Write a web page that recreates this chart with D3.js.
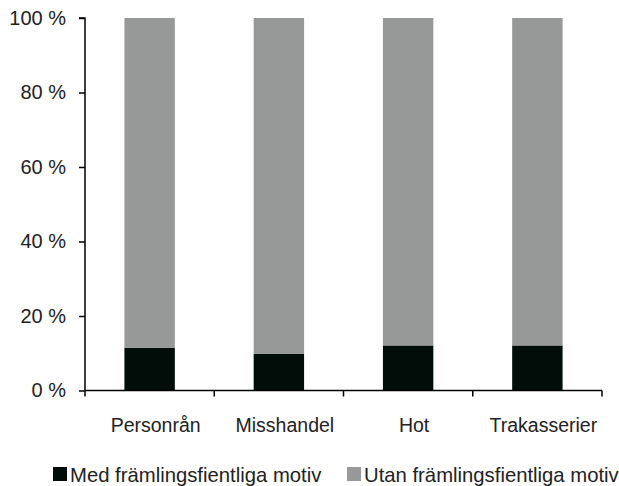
<!DOCTYPE html>
<html>
<head>
<meta charset="utf-8">
<script src="https://cdn.jsdelivr.net/npm/d3@7"></script>
<style>
  body { margin: 0; background: #fff; }
  text { font-family: "Liberation Sans", Arial, sans-serif; fill: #222; }
</style>
</head>
<body>
<script>
var categories = ["Personrån", "Misshandel", "Hot", "Trakasserier"];
var medMotiv = [11.5, 9.9, 12.1, 12.1];
var utanMotiv = [88.5, 90.1, 87.9, 87.9];
var seriesNames = ["Med främlingsfientliga motiv", "Utan främlingsfientliga motiv"];
var colors = ["#020d0a", "#969997"];
var yTicks = [0, 20, 40, 60, 80, 100];

var w = 619, h = 486;
var svg = d3.select("body").append("svg").attr("width", w).attr("height", h);

var x = d3.scaleBand().domain(categories).range([85, 602]).paddingInner(0.61).paddingOuter(0.305);
var y = d3.scaleLinear().domain([0, 100]).range([390.5, 18]);

var rows = categories.map(function (c, i) {
  return { cat: c, med: medMotiv[i], utan: utanMotiv[i] };
});
var stacked = d3.stack().keys(["med", "utan"])(rows);

svg.selectAll("g.layer").data(stacked).enter().append("g")
  .attr("class", "layer")
  .attr("fill", function (d, i) { return colors[i]; })
  .selectAll("rect").data(function (d) { return d; }).enter().append("rect")
  .attr("x", function (d) { return x(d.data.cat); })
  .attr("width", x.bandwidth())
  .attr("y", function (d) { return y(d[1]); })
  .attr("height", function (d) { return y(d[0]) - y(d[1]); });

// y axis
var yAxis = svg.append("g").attr("transform", "translate(85,0)")
  .call(d3.axisLeft(y).tickValues(yTicks).tickSize(6).tickPadding(13)
    .tickFormat(function (d) { return d + " %"; }));
yAxis.select(".domain").attr("stroke", "#000").attr("stroke-width", 1.5).attr("d", "M-6,18H0V390.5");
yAxis.selectAll(".tick line").attr("stroke", "#000").attr("stroke-width", 1.5);
yAxis.selectAll("text").style("font-size", "20px").attr("fill", "#222");

// x axis
var xAxis = svg.append("g").attr("transform", "translate(0,390.5)");
xAxis.append("line").attr("x1", 85).attr("x2", 602).attr("stroke", "#000").attr("stroke-width", 1.5);
var step = x.step();
var bounds = categories.map(function (c) { return x(c) - x.paddingInner() * step / 2; });
bounds.push(602);
xAxis.selectAll("line.tk").data(bounds).enter().append("line")
  .attr("class", "tk")
  .attr("x1", function (d) { return d; }).attr("x2", function (d) { return d; })
  .attr("y1", 0).attr("y2", 6)
  .attr("stroke", "#000").attr("stroke-width", 1.5);
xAxis.selectAll("text").data(categories).enter().append("text")
  .attr("x", function (d) { return x(d) + x.bandwidth() / 2 + 6; })
  .attr("y", 41.5)
  .attr("text-anchor", "middle")
  .style("font-size", "19.5px")
  .text(function (d) { return d; });

// legend
var legX = [53, 347];
var leg = svg.selectAll("g.leg").data(seriesNames).enter().append("g")
  .attr("class", "leg")
  .attr("transform", function (d, i) { return "translate(" + legX[i] + ",467)"; });
leg.append("rect").attr("width", 14).attr("height", 14)
  .attr("fill", function (d, i) { return colors[i]; });
leg.append("text").attr("x", 17).attr("y", 14.5)
  .style("font-size", "20.3px")
  .text(function (d) { return d; });
</script>
</body>
</html>
